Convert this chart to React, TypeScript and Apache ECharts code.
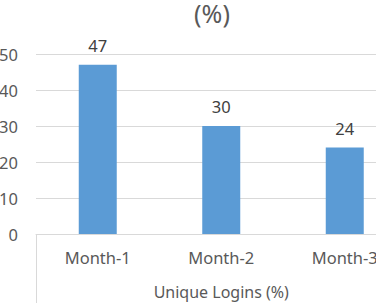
import React, { useEffect, useRef } from "react";
import * as echarts from "echarts";

const categories = ["Month-1", "Month-2", "Month-3"];
const values = [47, 30, 24];
const seriesName = "Unique Logins (%)";
const titleText = "(%)";

export default function App() {
  const ref = useRef<HTMLDivElement>(null);
  useEffect(() => {
    if (!ref.current) return;
    const chart = echarts.init(ref.current, null, { renderer: "svg" });
    const font = "'Noto Sans', 'Open Sans', sans-serif";
    chart.setOption({
      animation: false,
      backgroundColor: "#ffffff",
      title: {
        text: titleText,
        left: 207,
        top: -5,
        textAlign: "center",
        textStyle: { fontFamily: font, fontSize: 25, fontWeight: "normal", color: "#595959" },
      },
      grid: {
        left: 36,
        top: 54,
        width: 370.5,
        height: 180,
        containLabel: false,
        outerBoundsMode: "none",
      },
      xAxis: {
        type: "category",
        data: categories,
        name: seriesName,
        nameLocation: "middle",
        nameGap: 50,
        nameTextStyle: { fontFamily: font, fontSize: 16, color: "#595959" },
        axisLine: { show: true, lineStyle: { color: "#D9D9D9", width: 1 } },
        axisTick: {
          show: true,
          length: 70,
          interval: (i: number) => i === 0,
          lineStyle: { color: "#D9D9D9" },
        },
        axisLabel: { fontFamily: font, fontSize: 16.5, color: "#595959", margin: 15 },
      },
      yAxis: {
        type: "value",
        min: 0,
        max: 50,
        interval: 10,
        axisLine: { show: false },
        axisTick: { show: false },
        axisLabel: { fontFamily: font, fontSize: 16.5, color: "#595959", margin: 18 },
        splitLine: { lineStyle: { color: "#D9D9D9", width: 1 } },
      },
      series: [
        {
          type: "bar",
          name: seriesName,
          data: values,
          barWidth: 38,
          itemStyle: { color: "#5B9BD5" },
          label: {
            show: true,
            position: "top",
            distance: 11,
            fontFamily: font,
            fontSize: 16.5,
            color: "#404040",
          },
        },
      ],
    });
    return () => chart.dispose();
  }, []);
  return (
    <div
      ref={ref}
      style={{ position: "fixed", left: 0, top: 0, width: 376, height: 303 }}
    />
  );
}
